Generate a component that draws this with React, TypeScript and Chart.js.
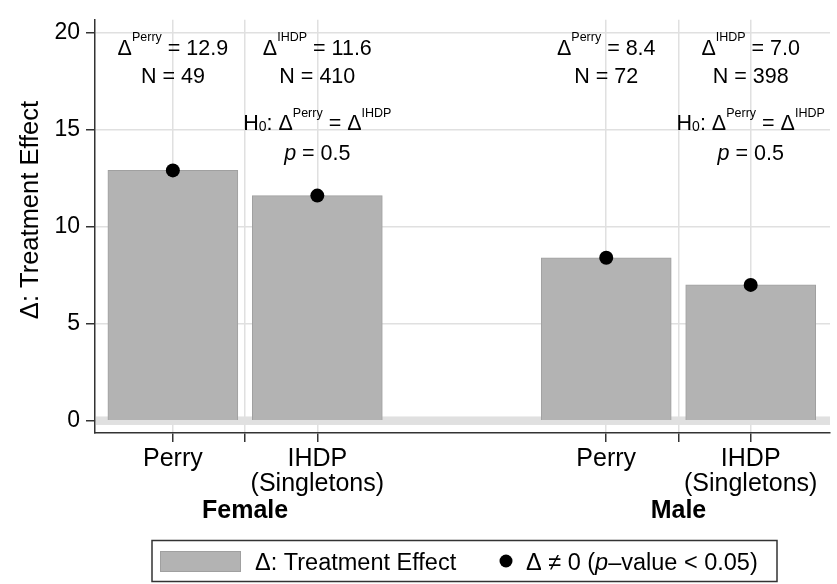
import React, { useEffect, useRef } from 'react';
import { Chart, registerables } from 'chart.js';

Chart.register(...registerables);

// ---- data ----
const positions = [1, 2, 4, 5];
const categoryLabels = [['Perry'], ['IHDP', '(Singletons)'], ['Perry'], ['IHDP', '(Singletons)']];
const sources = ['Perry', 'IHDP', 'Perry', 'IHDP'];
const effects = [12.9, 11.6, 8.4, 7.0];
const sampleSizes = [49, 410, 72, 398];
const groupNames = ['Female', 'Male'];
const groupCenters = [1.5, 4.5];
const pValues = [0.5, 0.5];
const xTicks = [1, 1.5, 2, 4, 4.5, 5];
const yTicks = [0, 5, 10, 15, 20];

const FONT = '"Liberation Sans", Arial, Helvetica, sans-serif';

type Seg = { t: string; f: string; dy?: number };

function drawRich(ctx: CanvasRenderingContext2D, segs: Seg[], cx: number, base: number) {
  let total = 0;
  const widths: number[] = [];
  for (const s of segs) {
    ctx.font = s.f;
    const w = ctx.measureText(s.t).width;
    widths.push(w);
    total += w;
  }
  let x = cx - total / 2;
  ctx.textAlign = 'left';
  ctx.textBaseline = 'alphabetic';
  segs.forEach((s, i) => {
    ctx.font = s.f;
    ctx.fillText(s.t, x, base + (s.dy || 0));
    x += widths[i];
  });
}

const zeroBand = {
  id: 'zeroBand',
  beforeDatasetsDraw(chart: any) {
    const { ctx, chartArea } = chart;
    const y0 = chart.scales.y.getPixelForValue(0);
    ctx.save();
    ctx.fillStyle = '#e0e0e0';
    ctx.fillRect(chartArea.left + 1, y0 - 4.25, chartArea.right - chartArea.left - 1, 8.5);
    ctx.restore();
  },
};

const overlay = {
  id: 'overlay',
  afterDraw(chart: any) {
    const ctx: CanvasRenderingContext2D = chart.ctx;
    const xs = chart.scales.x;
    const ys = chart.scales.y;
    const main = `21.5px ${FONT}`;
    const sup = `12.5px ${FONT}`;
    const sub = `14px ${FONT}`;
    const ital = `italic 21.5px ${FONT}`;
    ctx.save();
    ctx.fillStyle = '#000';

    // annotations above bars
    positions.forEach((p, i) => {
      const cx = xs.getPixelForValue(p);
      drawRich(ctx, [
        { t: 'Δ', f: main },
        { t: sources[i], f: sup, dy: -13.4 },
        { t: ' = ' + effects[i].toFixed(1), f: main },
      ], cx, ys.getPixelForValue(18.87));
      drawRich(ctx, [{ t: 'N = ' + sampleSizes[i], f: main }], cx, ys.getPixelForValue(17.42));
    });
    // hypothesis tests at second bar of each group
    [1, 3].forEach((idx, g) => {
      const cx = xs.getPixelForValue(positions[idx]);
      drawRich(ctx, [
        { t: 'H', f: main },
        { t: '0', f: sub, dy: 1 },
        { t: ': Δ', f: main },
        { t: 'Perry', f: sup, dy: -13.4 },
        { t: ' = Δ', f: main },
        { t: 'IHDP', f: sup, dy: -13.4 },
      ], cx, ys.getPixelForValue(14.98));
      drawRich(ctx, [
        { t: 'p', f: ital },
        { t: ' = ' + pValues[g].toFixed(1), f: main },
      ], cx, ys.getPixelForValue(13.41));
    });

    // x category labels
    ctx.font = `25px ${FONT}`;
    ctx.textAlign = 'center';
    ctx.textBaseline = 'alphabetic';
    positions.forEach((p, i) => {
      const cx = xs.getPixelForValue(p);
      categoryLabels[i].forEach((line, j) => {
        ctx.fillText(line, cx, 465.5 + j * 25);
      });
    });
    // group labels
    ctx.font = `bold 25px ${FONT}`;
    groupNames.forEach((g, i) => {
      ctx.fillText(g, xs.getPixelForValue(groupCenters[i]), 517.5);
    });

    // y axis title
    ctx.save();
    ctx.translate(38, 210);
    ctx.rotate(-Math.PI / 2);
    ctx.font = `25.5px ${FONT}`;
    ctx.textAlign = 'center';
    ctx.textBaseline = 'alphabetic';
    ctx.fillText('Δ: Treatment Effect', 0, 0);
    ctx.restore();

    // legend
    ctx.lineWidth = 1.5;
    ctx.strokeStyle = '#333';
    ctx.strokeRect(152, 540.5, 625, 41);
    ctx.fillStyle = '#b3b3b3';
    ctx.fillRect(160, 551, 81, 21);
    ctx.lineWidth = 1;
    ctx.strokeStyle = '#a0a0a0';
    ctx.strokeRect(160.5, 551.5, 80, 20);
    ctx.fillStyle = '#000';
    ctx.font = `23.5px ${FONT}`;
    ctx.textAlign = 'left';
    ctx.fillText('Δ: Treatment Effect', 255, 570);
    ctx.beginPath();
    ctx.arc(506, 561, 6.5, 0, Math.PI * 2);
    ctx.fill();
    let x = 526;
    const parts: Seg[] = [
      { t: 'Δ ≠ 0 (', f: `23.5px ${FONT}` },
      { t: 'p', f: `italic 23.5px ${FONT}` },
      { t: '–value < 0.05)', f: `23.5px ${FONT}` },
    ];
    parts.forEach((s) => {
      ctx.font = s.f;
      ctx.fillText(s.t, x, 570);
      x += ctx.measureText(s.t).width;
    });
    ctx.restore();
  },
};

export default function App() {
  const ref = useRef<HTMLCanvasElement>(null);
  useEffect(() => {
    if (!ref.current) return;
    const chart = new Chart(ref.current, {
      type: 'bar',
      data: {
        datasets: [
          {
            type: 'line',
            label: 'Δ ≠ 0',
            data: positions.map((p, i) => ({ x: p, y: effects[i] })),
            showLine: false,
            pointRadius: 7,
            pointBackgroundColor: '#000',
            pointBorderColor: '#000',
            pointBorderWidth: 0,
            order: 0,
          } as any,
          {
            type: 'bar',
            label: 'Δ: Treatment Effect',
            data: positions.map((p, i) => ({ x: p, y: effects[i] })),
            backgroundColor: '#b3b3b3',
            borderColor: '#a0a0a0',
            borderWidth: 1,
            barThickness: 130,
            order: 1,
          } as any,
        ],
      },
      options: {
        responsive: false,
        animation: false,
        devicePixelRatio: 1,
        layout: { padding: { top: 6, right: 3, left: 0, bottom: 0 } },
        plugins: { legend: { display: false }, tooltip: { enabled: false }, title: { display: false } },
        scales: {
          x: {
            type: 'linear',
            position: 'bottom',
            offset: false,
            min: 0.461,
            max: 5.549,
            afterBuildTicks: (s: any) => { s.ticks = xTicks.map((v) => ({ value: v })); },
            afterFit: (s: any) => { s.height = 151; },
            ticks: { display: false },
            grid: { offset: false, color: '#e0e0e0', lineWidth: 1.5, tickColor: '#333', tickWidth: 1.5, tickLength: 9 },
            border: { display: true, color: '#333', width: 1.5 },
          },
          y: {
            type: 'linear',
            min: -0.633,
            max: 20.66,
            afterBuildTicks: (s: any) => { s.ticks = yTicks.map((v) => ({ value: v })); },
            afterFit: (s: any) => { s.width = 95; },
            ticks: { color: '#000', font: { size: 23, family: FONT }, padding: 6 },
            grid: {
              color: '#e0e0e0',
              lineWidth: 1.5,
              tickColor: '#333',
              tickWidth: 1.5,
              tickLength: 9,
            },
            border: { display: true, color: '#333', width: 1.5 },
          },
        },
      } as any,
      plugins: [zeroBand, overlay],
    });
    return () => chart.destroy();
  }, []);
  return (
    <div style={{ position: 'absolute', left: 0, top: 0, width: 837, height: 584, background: '#fff' }}>
      <canvas ref={ref} width={837} height={584} style={{ display: 'block' }} />
    </div>
  );
}
